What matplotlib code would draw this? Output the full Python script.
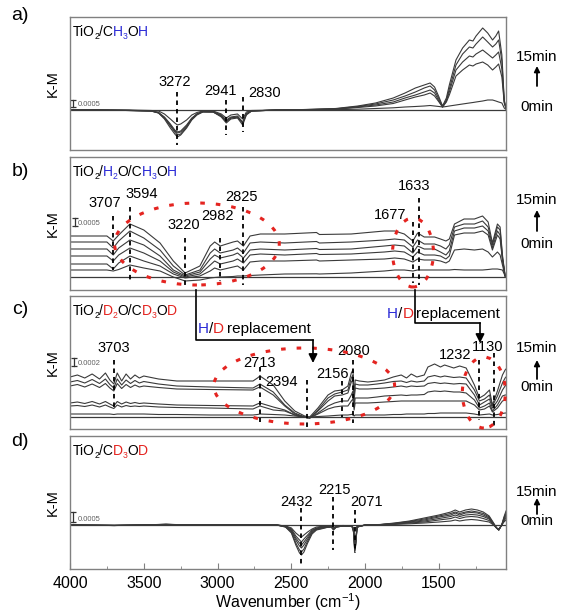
import matplotlib.pyplot as plt
from matplotlib.patches import Ellipse, FancyArrowPatch
from matplotlib.lines import Line2D
from matplotlib.ticker import MultipleLocator

plt.rcParams['font.family'] = ['Liberation Sans', 'DejaVu Sans']
plt.rcParams['mathtext.fontset'] = 'custom'
plt.rcParams['mathtext.rm'] = 'Liberation Sans'
plt.rcParams['mathtext.it'] = 'Liberation Sans:italic'
plt.rcParams['mathtext.bf'] = 'Liberation Sans:bold'

# ---- spectra (K-M difference, arbitrary units; 0 min spectrum is the flat baseline) ----
wn_a = [4000, 3800, 3600, 3450, 3400, 3360, 3320, 3290, 3272, 3250, 3210, 3175, 3140, 3100, 3030,
        2975, 2941, 2910, 2865, 2830, 2805, 2770, 2600, 2400, 2200, 2050, 1930, 1810, 1730, 1660,
        1600, 1560, 1530, 1500, 1476, 1450, 1430, 1385, 1340, 1294, 1270, 1249, 1204, 1170, 1137,
        1115, 1096, 1074, 1058, 1046]
a1 = [0, 0, 0, -0.5, -1, -4, -9, -13, -15, -14, -10, -5, -2.5, -1, -1, -4, -8, -5, -4, -9, -2, -0.5, 0, 0, 0.3,
      0.8, 1.5, 2.2, 3, 3.5, 4, 4.5, 4, 3.5, 3, 3.5, 4, 5, 6, 7, 7.5, 8, 9, 10, 10, 9, 8, 7, 2, 0.5]
a2 = [0, 0, -0.3, -1, -2.5, -7, -14, -20, -22, -21, -15, -8, -4, -1.5, -1.5, -5, -10, -7, -6, -12, -3.5, -1, 0,
      0.3, 0.8, 2.5, 4, 6.5, 10, 13, 15, 17, 14, 8, 3, 8, 15, 34, 40, 45, 44, 46, 48, 45, 40, 43, 46, 33, 7, 1.5]
a3 = [0, 0, -0.5, -1, -2.5, -8, -15, -21, -23, -22, -16, -9, -4, -1.5, -2, -6, -11, -8, -7, -13, -4, -1, 0, 0.3,
      1, 3, 5, 8, 12, 15, 18, 20, 17, 9, 3, 9, 18, 40, 48, 54, 53, 56, 60, 56, 52, 55, 58, 41, 8, 2]
a4 = [0, 0, -0.5, -1, -3, -8, -16, -22, -25, -24, -17, -9, -4, -2, -2, -6, -12, -8, -7, -13, -4, -1, 0, 0.5, 1.2,
      3.5, 6, 10, 14, 18, 22, 24, 20, 11, 3.5, 10, 21, 45, 56, 63, 62, 66, 73, 68, 63, 66, 70, 49, 9, 2]
a5 = [0, 0, -0.5, -1, -3, -9, -18, -24, -27, -25, -18, -10, -5, -2, -2, -7, -13, -9, -8, -15, -5, -1, 0, 0.5, 1.5,
      4, 7, 12, 17, 22, 25, 27, 23, 13, 4, 12, 25, 50, 62, 70, 69, 74, 82, 77, 70, 74, 79, 55, 10, 2]

wn_b = [4000, 3840, 3750, 3707, 3670, 3594, 3500, 3390, 3300, 3220, 3120, 3050, 3020, 2982, 2895,
        2865, 2825, 2780, 2710, 2545, 2330, 2310, 2095, 1870, 1800, 1735, 1677, 1645, 1600, 1530,
        1490, 1453, 1430, 1395, 1330, 1260, 1205, 1167, 1138, 1104, 1086, 1070, 1052, 1046]
b1 = [7, 7, 7, 6, 7.5, 12, 9, 6, 0, -4, -3, -1, -0.5, 0, 0.5, 1, 1, 1.5, 2, 3, 3.2, 3, 4, 6, 7, 7, 6, 7, 7, 7,
      7, 7, 7, 7.5, 7, 7, 7, 7.5, 8, 8, 7.5, 7, 1, 0]
b2 = [13, 13, 13, 8, 14, 21, 16, 11, 3, -1, 1, 6, 9, 7, 10, 11, 7, 15, 16, 16, 17, 16, 17, 18, 19, 18, 15, 18,
      17, 17, 16, 14, 16, 27, 28, 27, 28, 25, 20, 25, 22, 12, 1, 0]
b3 = [21, 21, 21, 16, 22, 29, 24, 16, 5, 0, 3, 12, 16, 13, 16, 18, 14, 22, 23, 22, 23.5, 22.5, 23, 25, 26, 25,
      20, 25, 22, 22, 21, 18, 21, 42, 44, 44, 46, 42, 27, 42, 38, 17, 1, 0]
b4 = [28, 28, 28, 22, 29, 37, 32, 21, 7, 1, 5, 18, 22, 19, 22, 24, 19, 27, 28, 27, 28.5, 27.5, 28, 31, 32, 31,
      24, 31, 28, 28, 25, 22, 26, 46, 49, 49, 51, 46, 29, 46, 42, 18, 1, 0]
b5 = [35, 35, 35, 29, 36, 46, 39, 27, 11, 2, 7, 24, 28, 24, 27, 29, 24, 34, 35, 34, 35.5, 34, 35, 37, 38, 37,
      30, 37, 33, 33, 31, 28, 32, 50, 53, 53, 56, 50, 32, 50, 47, 20, 1, 0]
b6 = [41, 41, 41, 36, 42, 53, 47, 34, 16, 4, 11, 31, 35, 31, 35, 36, 31, 41, 43, 43, 44.5, 42.5, 43, 46, 46,
      43, 36, 44, 40, 40, 38, 36, 38, 53, 58, 58, 61, 55, 34, 53, 50, 22, 1, 0]

wn_c = [4000, 3950, 3900, 3850, 3800, 3760, 3730, 3703, 3680, 3650, 3620, 3590, 3560, 3530, 3500,
        3400, 3276, 3050, 2760, 2730, 2713, 2623, 2545, 2477, 2410, 2376, 2320, 2252, 2207, 2157,
        2117, 2094, 2083, 2075, 2068, 2040, 1982, 1920, 1869, 1810, 1756, 1720, 1688, 1650, 1600,
        1575, 1530, 1490, 1462, 1400, 1360, 1316, 1260, 1226, 1192, 1158, 1138, 1104, 1070, 1052, 1046]
c1 = [3, 3, 3, 3, 3, 3, 3, 2.5, 3, 3, 3, 3, 3, 3, 3, 2.5, 2.5, 2, 2, 2.5, 3, 2.5, 2, 1, 0, 0, 0.5, 1, 1.5, 2,
      2, 2.5, 3, 1, 2, 2, 2, 2, 2, 2.5, 2.5, 3, 3, 3, 3, 3.5, 3.5, 4, 4, 4, 4, 4, 3, 2, 2.5, 3, 2, 2.5, 3.5, 4, 4]
c2 = [11, 11.5, 10.5, 12, 10, 12, 10, 8.5, 12, 10, 11.5, 10.5, 11, 10.5, 11, 10, 9.5, 9, 8, 10, 11, 7, 6, 2, 0,
      -1, 3, 8, 10, 11, 11, 16, 18, 7, 14, 14, 14, 14.5, 15, 15.5, 16, 16, 16, 16, 16, 16, 16, 16, 16, 16, 16,
      16, 12, 7, 8, 11, 5, 9, 16, 17, 17]
c3 = [14, 15, 13.5, 15.5, 13, 15.5, 13, 11, 15.5, 13, 15, 13.5, 14.5, 13.5, 14, 13, 12, 11.5, 11, 13, 14, 10,
      7, 2, 0, -1, 4, 11, 14, 16, 16, 22, 26, 10, 19, 19, 19, 20, 21, 21.5, 22, 21.5, 22, 22, 22.5, 25, 26,
      25.5, 26, 25, 25, 24, 17, 9, 11, 14, 6, 12, 21, 22, 22]
c4 = [31, 32.5, 30, 33, 29.5, 33.5, 29, 26, 33.5, 28.5, 32.5, 29.5, 32, 30, 31, 29.5, 28, 27.5, 27, 29, 30,
      22, 11, 3, 0, -1, 6, 16, 21, 22, 24, 35, 37, 16, 29, 28, 28, 28.5, 29, 30, 31, 30, 31, 30.5, 31, 33.5,
      34.5, 33.5, 34, 33, 33.5, 33, 22, 12, 15, 18, 9, 16, 27, 31, 32]
c5 = [35, 36.5, 34, 37.5, 33.5, 38, 32.5, 29, 38, 32, 37, 33.5, 36.5, 34, 35.5, 33, 31, 30, 29, 31.5, 33, 25,
      12, 4, 0, -1, 7, 19, 23, 25, 27, 39, 42, 18, 33, 32, 32, 33, 34, 35.5, 36, 34.5, 36, 35, 36, 40, 41.5,
      40, 41, 39.5, 40, 39, 27, 16, 18, 22, 11, 21, 34, 39, 40]
c6 = [40, 42, 39, 43, 38, 44, 37, 33, 44, 36, 43, 38, 42, 39, 41, 38, 36, 36, 36, 39, 41, 32, 16, 6, 1, 0, 9,
      22, 26, 27, 31, 44, 47, 20, 37, 36, 35, 36, 37, 40, 42, 39, 43, 40, 42, 50, 53, 50, 52, 49, 51, 49, 32,
      19, 22, 27, 12, 26, 42, 47, 48]

wn_d = [4000, 3700, 3500, 3350, 3200, 2800, 2600, 2540, 2500, 2470, 2445, 2432, 2415, 2390, 2360,
        2330, 2300, 2260, 2230, 2215, 2195, 2150, 2090, 2078, 2071, 2064, 2055, 2000, 1900, 1800,
        1700, 1600, 1500, 1420, 1390, 1360, 1320, 1280, 1240, 1200, 1160, 1130, 1110, 1095, 1075, 1060, 1046]
d1 = [0, -0.3, 0, 0.3, 0, 0, 0, -1, -3, -8, -11, -12, -10, -7, -4, -2, -1.5, -1, -1, -2.5, -1, -0.5, -1, -3,
      -20, -13, -1.5, 0, 0.2, 0.6, 1.2, 2, 3, 4, 5, 4, 5, 5.5, 5, 4, 3, 0, -3, -4, 0, 3, 5]
d2 = [0, -0.3, 0, 0.4, 0, 0, 0, -1, -4, -11, -15, -17, -14, -10, -5, -3, -2, -1.5, -1.4, -3, -1.5, -0.8, -1,
      -4, -22, -15, -2, 0, 0.2, 1, 2, 3, 5, 6.5, 8, 6.5, 8, 8.5, 8, 6.5, 4.5, 0.5, -3, -4.5, 0, 4, 7]
d3 = [0, -0.5, 0, 0.5, 0, 0, 0, -1.5, -5, -13, -18, -20, -17, -12, -6, -3.5, -2.5, -1.8, -1.6, -3.5, -1.8, -1,
      -1, -5, -24, -17, -2, 0, 0.3, 1.2, 2.5, 4, 6.5, 8.5, 10, 8.5, 10, 10.5, 10, 8.5, 6, 1, -3, -5, 0, 5, 9]
d4 = [0, -0.5, 0, 0.6, 0, 0, 0, -1.5, -6, -15, -21, -23, -20, -14, -7, -4, -3, -2, -1.8, -4, -2, -1, -1, -6,
      -25, -18, -2, 0, 0.3, 1.5, 3, 5, 8, 10, 12, 10, 12, 12.5, 12, 10, 7, 1, -3, -5, 0, 6, 11]
d5 = [0, -0.5, 0, 0.7, 0, 0, 0, -2, -7, -18, -25, -27, -24, -16, -8, -4.5, -3.5, -2.3, -2, -4.5, -2, -1, -1,
      -7, -26, -19, -2, 0, 0.4, 1.7, 3.5, 6, 9, 11.5, 13, 11.5, 13, 14, 13, 11.5, 8, 1.5, -3, -5, 0, 7, 12]
d6 = [0, -0.5, 0, 0.8, 0, 0, 0, -2, -8, -20, -28, -30, -27, -18, -9, -5, -4, -2.5, -2, -5, -2, -1, -1, -8,
      -27, -20, -2, 0, 0.5, 2, 4, 7, 10, 13, 15, 13, 15, 16, 15, 13, 9, 2, -3, -5, 0, 8, 14]

# peak labels: (text, x, y) and dashed markers: (wavenumber, y_top, y_bottom)
labels_a = [('3272', 3290, 28), ('2941', 2977, 19), ('2830', 2679, 17)]
marks_a = [(3272, 18, -35), (2941, 10, -25), (2830, 13, -22)]
labels_b = [('3707', 3763, 74), ('3594', 3513, 83), ('3220', 3232, 52), ('2982', 2999, 61),
            ('2825', 2836, 80), ('1677', 1828, 62), ('1633', 1666, 91)]
marks_b = [(3707, 61, 7), (3594, 70, -4), (3220, 39, -10), (2982, 39, -4), (2825, 70, -8),
           (1677, 55, -6), (1633, 79, -8)]
labels_c = [('3703', 3703, 69), ('2713', 2713, 54), ('2394', 2569, 35), ('2156', 2221, 43),
            ('2080', 2078, 66), ('1232', 1388, 62), ('1130', 1171, 70)]
marks_c = [(3703, 57, 7), (2713, 50, -5), (2394, 37, -11), (2156, 36, 0), (2080, 57, -6),
           (1232, 57, -3), (1130, 64, -10)]
labels_d = [('2432', 2464, 23), ('2215', 2207, 35), ('2071', 1991, 23)]
marks_d = [(2432, 17, -41), (2215, 28, -25), (2071, 15, -28)]

# sample names: (text, colour, subscript?)
BLUE = '#2a2ad6'
RED = '#e42420'
K = 'black'
title_a = [('TiO', K, 0), ('2', K, 1), ('/C', K, 0), ('H', BLUE, 0), ('3', BLUE, 1), ('O', K, 0), ('H', BLUE, 0)]
title_b = [('TiO', K, 0), ('2', K, 1), ('/', K, 0), ('H', BLUE, 0), ('2', BLUE, 1), ('O/C', K, 0),
           ('H', BLUE, 0), ('3', BLUE, 1), ('O', K, 0), ('H', BLUE, 0)]
title_c = [('TiO', K, 0), ('2', K, 1), ('/', K, 0), ('D', RED, 0), ('2', RED, 1), ('O/C', K, 0),
           ('D', RED, 0), ('3', RED, 1), ('O', K, 0), ('D', RED, 0)]
title_d = [('TiO', K, 0), ('2', K, 1), ('/C', K, 0), ('D', RED, 0), ('3', RED, 1), ('O', K, 0), ('D', RED, 0)]
hd_text = [('H', BLUE, 0), ('/', K, 0), ('D', RED, 0), ('\u2009replacement', K, 0)]

W, H = 561, 612
fig = plt.figure(figsize=(W / 100, H / 100), dpi=100)
renderer = fig.canvas.get_renderer()

LINE = '#3a3a3a'
FRAME = '#808080'


def fx(x):
    return x / W


def fy(y):
    return 1 - y / H


def colored(x, y, parts, size):
    # write coloured pieces one after another, baseline at pixel row y
    for t, c, sub in parts:
        fs = size * 0.62 if sub else size
        yy = y + 3 if sub else y
        txt = fig.text(fx(x), fy(yy), t, color=c, fontsize=fs, ha='left', va='baseline')
        x += txt.get_window_extent(renderer=renderer).width - (0.6 if sub else 0.0)


def panel(top, wn, curves, ylim, labels, marks, title, bar):
    ax = fig.add_axes([fx(70), fy(top + 133), 436 / W, 133 / H])
    ax.axhline(0, color=LINE, lw=0.9)
    for c in curves:
        ax.plot(wn, c, color=LINE, lw=0.8)
    for w, y0, y1 in marks:
        ax.plot([w, w], [y0, y1], color='k', lw=1.3, ls=(0, (2.5, 2.2)), zorder=4)
    for s, x, y in labels:
        ax.text(x, y, s, ha='center', va='center', fontsize=10.5, zorder=5)
    w, y0, y1, s = bar
    ax.plot([w, w], [y0, y1], color='#333333', lw=0.9, marker='_', ms=4, mew=0.9)
    ax.text(3950, y0 - 1, s, fontsize=5.5, color='#606060', va='bottom', ha='left')
    colored(73, top + 19, title, 10)
    ax.set_xlim(4000, 1046)
    ax.set_ylim(*ylim)
    ax.set_xticks([])
    ax.set_yticks([])
    for sp in ax.spines.values():
        sp.set_color(FRAME)
        sp.set_linewidth(1.0)
    ax.set_ylabel('K-M', fontsize=10.5)
    ax.yaxis.set_label_coords(-0.023, 0.5)
    return ax


ax_a = panel(17, wn_a, [a1, a2, a3, a4, a5], (-40, 93), labels_a, marks_a, title_a, (3980, 3, 10, '0.0005'))
ax_b = panel(157, wn_b, [b1, b2, b3, b4, b5, b6], (-13, 120), labels_b, marks_b, title_b, (3966, 51, 59, '0.0005'))
ax_c = panel(296, wn_c, [c1, c2, c3, c4, c5, c6], (-12, 121), labels_c, marks_c, title_c, (3973, 51, 59, '0.0002'))
ax_d = panel(436, wn_d, [d1, d2, d3, d4, d5, d6], (-44, 89), labels_d, marks_d, title_d, (3980, 3, 13, '0.0005'))

# bottom axis ticks
ax_d.set_xticks([4000, 3500, 3000, 2500, 2000, 1500])
ax_d.xaxis.set_minor_locator(MultipleLocator(250))
ax_d.tick_params(axis='x', which='both', direction='in', color=FRAME, labelsize=11.5, pad=5)
ax_d.tick_params(axis='x', which='major', length=4)
ax_d.tick_params(axis='x', which='minor', length=2.5)
ax_d.set_xlabel('Wavenumber (cm$^{-1}$)', fontsize=11.5, labelpad=0)

# red dotted regions
ring = dict(fill=False, edgecolor=RED, lw=2.2, ls=(0, (1.5, 3.6)), zorder=6, clip_on=False)
ax_b.add_patch(Ellipse((3140, 33), 1116, 82, **ring))
ax_b.add_patch(Ellipse((1676, 24.5), 277, 69, **ring))
ax_c.add_patch(Ellipse((2413, 31), 1225, 76, **ring))
ax_c.add_patch(Ellipse((1196, 24.5), 291, 71, **ring))

# panel letters and time arrows
for letter, y in zip(['a)', 'b)', 'c)', 'd)'], [15, 172, 310, 442]):
    fig.text(fx(20), fy(y), letter, fontsize=14, ha='center', va='center')

for t15, ya, yb, t0 in [(57, 86, 66, 107), (200, 231, 210, 244), (348, 379, 360, 387), (492, 514, 498, 521)]:
    fig.text(fx(537), fy(t15), '15min', fontsize=11, ha='center', va='center')
    fig.text(fx(537), fy(t0), '0min', fontsize=11, ha='center', va='center')
    fig.add_artist(FancyArrowPatch((fx(537), fy(ya)), (fx(537), fy(yb)), transform=fig.transFigure,
                                   arrowstyle='-|>', mutation_scale=8, color='k', lw=1.3,
                                   shrinkA=0, shrinkB=0))

# H/D replacement connectors
for path, tip, txt in [([(196, 290), (196, 340), (313, 340)], 363, (198, 333)),
                       ([(415, 290), (415, 323), (480, 323)], 343, (387, 318))]:
    xs = [fx(p[0]) for p in path]
    ys = [fy(p[1]) for p in path]
    fig.add_artist(Line2D(xs, ys, transform=fig.transFigure, color='k', lw=1.2))
    fig.add_artist(FancyArrowPatch((xs[-1], ys[-1]), (xs[-1], fy(tip)), transform=fig.transFigure,
                                   arrowstyle='-|>', mutation_scale=13, color='k', lw=1.2,
                                   shrinkA=0, shrinkB=0))
    colored(txt[0], txt[1], hd_text, 11)

fig.savefig('out.png', dpi=100)
